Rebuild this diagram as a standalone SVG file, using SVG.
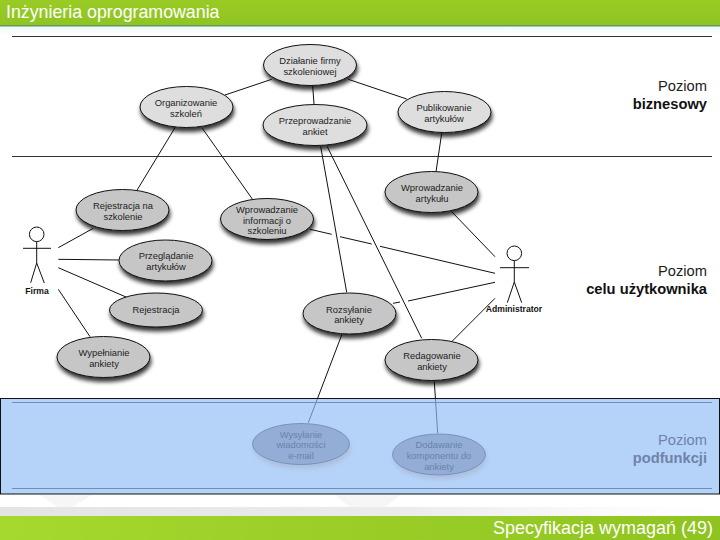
<svg xmlns="http://www.w3.org/2000/svg" width="720" height="540" viewBox="0 0 720 540">
<defs>
<linearGradient id="top" x1="0" x2="0" y1="0" y2="1"><stop offset="0" stop-color="#9acb25"/><stop offset="1" stop-color="#8fc422"/></linearGradient>
<linearGradient id="bot" x1="0" x2="1" y1="0" y2="0"><stop offset="0" stop-color="#a5d92f"/><stop offset="1" stop-color="#8fc31f"/></linearGradient>
<linearGradient id="fadeb" x1="0" x2="1" y1="0" y2="0"><stop offset="0" stop-color="#e4e4e4"/><stop offset=".55" stop-color="#ebebeb"/><stop offset=".85" stop-color="#fbfbfb"/><stop offset="1" stop-color="#fff"/></linearGradient>
<linearGradient id="sky" x1="0" x2="0" y1="0" y2="1"><stop offset="0" stop-color="#eef8fb"/><stop offset="1" stop-color="#ffffff"/></linearGradient>
<filter id="sh" x="-20%" y="-20%" width="140%" height="170%"><feGaussianBlur in="SourceAlpha" stdDeviation="2"/><feOffset dx="1" dy="3.5"/><feComponentTransfer><feFuncA type="linear" slope="0.8"/></feComponentTransfer><feMerge><feMergeNode/><feMergeNode in="SourceGraphic"/></feMerge></filter>
<filter id="shb" x="-20%" y="-20%" width="140%" height="170%"><feGaussianBlur in="SourceAlpha" stdDeviation="2"/><feOffset dx="1" dy="3.5"/><feColorMatrix type="matrix" values="0 0 0 0 .4 0 0 0 0 .5 0 0 0 0 .7 0 0 0 .8 0"/><feMerge><feMergeNode/><feMergeNode in="SourceGraphic"/></feMerge></filter>
</defs>
<style>
text{font-family:"Liberation Sans",Arial,sans-serif;text-anchor:middle;fill:#1d1d1d}
.u{font-size:9.4px}
.a{fill:#dedede;stroke:#111;stroke-width:1;filter:url(#sh)}
.b{fill:#c6c6c6;stroke:#111;stroke-width:1;filter:url(#sh)}
.c{fill:#93add7;stroke:#6d86ad;stroke-width:.8;filter:url(#shb)}
.ct{font-size:9.4px;fill:#6a82a9}
.l{stroke:#111;stroke-width:1;fill:none}
.rule{stroke:#333;stroke-width:1}
.rb{stroke:#6c90ba;stroke-width:1}
.act{font-size:8.6px;font-weight:bold;fill:#111}
.lev{font-size:14.7px;text-anchor:end}
.levb{font-size:14.7px;font-weight:bold;text-anchor:end;fill:#111}
.levc{font-size:14.7px;text-anchor:end;fill:#6f84a6}
.stick{stroke:#111;stroke-width:1;fill:none}
</style>
<rect width="720" height="540" fill="#fff"/>
<rect x="0" y="26" width="720" height="10" fill="url(#sky)"/>
<rect x="0" y="0" width="720" height="25" fill="url(#top)"/>
<rect x="0" y="25" width="720" height="1.5" fill="#5f9a5a"/>
<text x="6" y="17.5" style="font-size:17.8px;text-anchor:start;fill:#fff">Inżynieria oprogramowania</text>
<path class="rule" d="M12 36.500H712M12 156.500H712"/>

<g id="connectors">
<path class="l" d="M225 95L271.700 79.300M312.700 86L314 104M348.300 79.300L406.700 99M175 127.700L136.700 190.700M202.300 128.300L252.300 199M320.700 146.700L346.700 292.300M327.300 146.700L421.700 338.300M441.700 133.300L436 171.700M451.700 211.700L495 256.700M58.300 247.700L93.300 228.300M58.300 259.300L119 260M58.300 267.700L126.700 297.300M58.300 289.300L90 336.700M310 229.300L331.700 234.300M340 236.700L371.700 244M380 246.300L495 273.300M393 303.300L400 302M408 301L495 282.300M451.700 341.700L495 298.300M341.700 335L308.300 422.700M434.300 381.700L437.700 433.300"/>
</g>

<g id="firma" class="stick"><circle cx="36.700" cy="234.300" r="7.300" fill="#fff"/><path d="M36.700 241.600V263M23 248.300H51M36.700 263L30.700 282.700M36.700 263L44.300 283"/></g>
<text class="act" x="37" y="293.500">Firma</text>
<g id="administrator" class="stick"><circle cx="514.300" cy="253.300" r="7.300" fill="#fff"/><path d="M514.300 260.600V282M500 267.700H529M514.300 282L507.300 302.700M514.300 282L521.700 302.700"/></g>
<text class="act" x="514" y="312">Administrator</text>

<g id="n-dzialanie"><ellipse class="a" cx="310" cy="65" rx="46.500" ry="20.500"/><text class="u" x="310" y="64">Działanie firmy</text><text class="u" x="310" y="75">szkoleniowej</text></g>
<g id="n-organizowanie"><ellipse class="a" cx="186.500" cy="107" rx="46.500" ry="20.500"/><text class="u" x="186" y="106">Organizowanie</text><text class="u" x="186" y="117">szkoleń</text></g>
<g id="n-przeprowadzanie"><ellipse class="a" cx="315" cy="125" rx="52" ry="20.500"/><text class="u" x="315" y="124">Przeprowadzanie</text><text class="u" x="315" y="135">ankiet</text></g>
<g id="n-publikowanie"><ellipse class="a" cx="444.500" cy="112" rx="46.500" ry="20.500"/><text class="u" x="444" y="111">Publikowanie</text><text class="u" x="444" y="122">artykułów</text></g>
<g id="n-wprowadzanie-art"><ellipse class="b" cx="431.500" cy="192" rx="46.500" ry="20.500"/><text class="u" x="432" y="191">Wprowadzanie</text><text class="u" x="432" y="202">artykułu</text></g>
<g id="n-rejestracja-szk"><ellipse class="b" cx="122.500" cy="210" rx="46.500" ry="20.500"/><text class="u" x="123" y="209">Rejestracja na</text><text class="u" x="123" y="220">szkolenie</text></g>
<g id="n-wprowadzanie-inf"><ellipse class="b" cx="267" cy="219" rx="46.500" ry="20.500"/><text class="u" x="267" y="212.500">Wprowadzanie</text><text class="u" x="267" y="223.500">informacji o</text><text class="u" x="267" y="234">szkoleniu</text></g>
<g id="n-przegladanie"><ellipse class="b" cx="165.500" cy="260.500" rx="46.500" ry="20.500"/><text class="u" x="166" y="259">Przeglądanie</text><text class="u" x="166" y="270">artykułów</text></g>
<g id="n-rejestracja"><ellipse class="b" cx="156" cy="310" rx="46.500" ry="17"/><text class="u" x="156" y="313">Rejestracja</text></g>
<g id="n-wypelnianie"><ellipse class="b" cx="103.500" cy="357" rx="46.500" ry="20.500"/><text class="u" x="104" y="356">Wypełnianie</text><text class="u" x="104" y="367">ankiety</text></g>
<g id="n-rozsylanie"><ellipse class="b" cx="349.500" cy="313.500" rx="46.500" ry="20.500"/><text class="u" x="349" y="312.500">Rozsyłanie</text><text class="u" x="349" y="323">ankiety</text></g>
<g id="n-redagowanie"><ellipse class="b" cx="431.500" cy="360" rx="46.500" ry="20.500"/><text class="u" x="432" y="359">Redagowanie</text><text class="u" x="432" y="370">ankiety</text></g>

<text class="lev" x="707" y="91">Poziom</text><text class="levb" x="707" y="109">biznesowy</text>
<text class="lev" x="707" y="276">Poziom</text><text class="levb" x="707" y="294">celu użytkownika</text>

<rect x="0.500" y="398.500" width="719" height="95.500" fill="#92bdf5" fill-opacity=".68"/>
<path class="rb" d="M12 402.500H712M12 488.500H712"/>
<rect x="0.500" y="398.500" width="719" height="95.500" fill="none" stroke="#111" stroke-width="1"/>

<g id="n-wysylanie"><ellipse class="c" cx="301" cy="444" rx="48.500" ry="20.500"/><text class="ct" x="301" y="437.500">Wysyłanie</text><text class="ct" x="301" y="448">wiadomości</text><text class="ct" x="301" y="458.500">e-mail</text></g>
<g id="n-dodawanie"><ellipse class="c" cx="439" cy="454.500" rx="46.500" ry="20.500"/><text class="ct" x="439" y="447.500">Dodawanie</text><text class="ct" x="439" y="458.500">komponentu do</text><text class="ct" x="439" y="469.500">ankiety</text></g>
<text class="levc" x="707" y="445">Poziom</text><text class="levc" x="707" y="463" style="font-weight:bold">podfunkcji</text>

<rect x="0" y="507" width="720" height="9" fill="url(#fadeb)"/>
<path d="M40 495H92L72 507H58ZM335 495H400L385 507H350Z" fill="#f6f6f6"/>
<rect x="0" y="516" width="720" height="24" fill="url(#bot)"/>
<text x="713" y="534.300" style="font-size:18px;text-anchor:end;fill:#fff">Specyfikacja wymagań (49)</text>
</svg>
